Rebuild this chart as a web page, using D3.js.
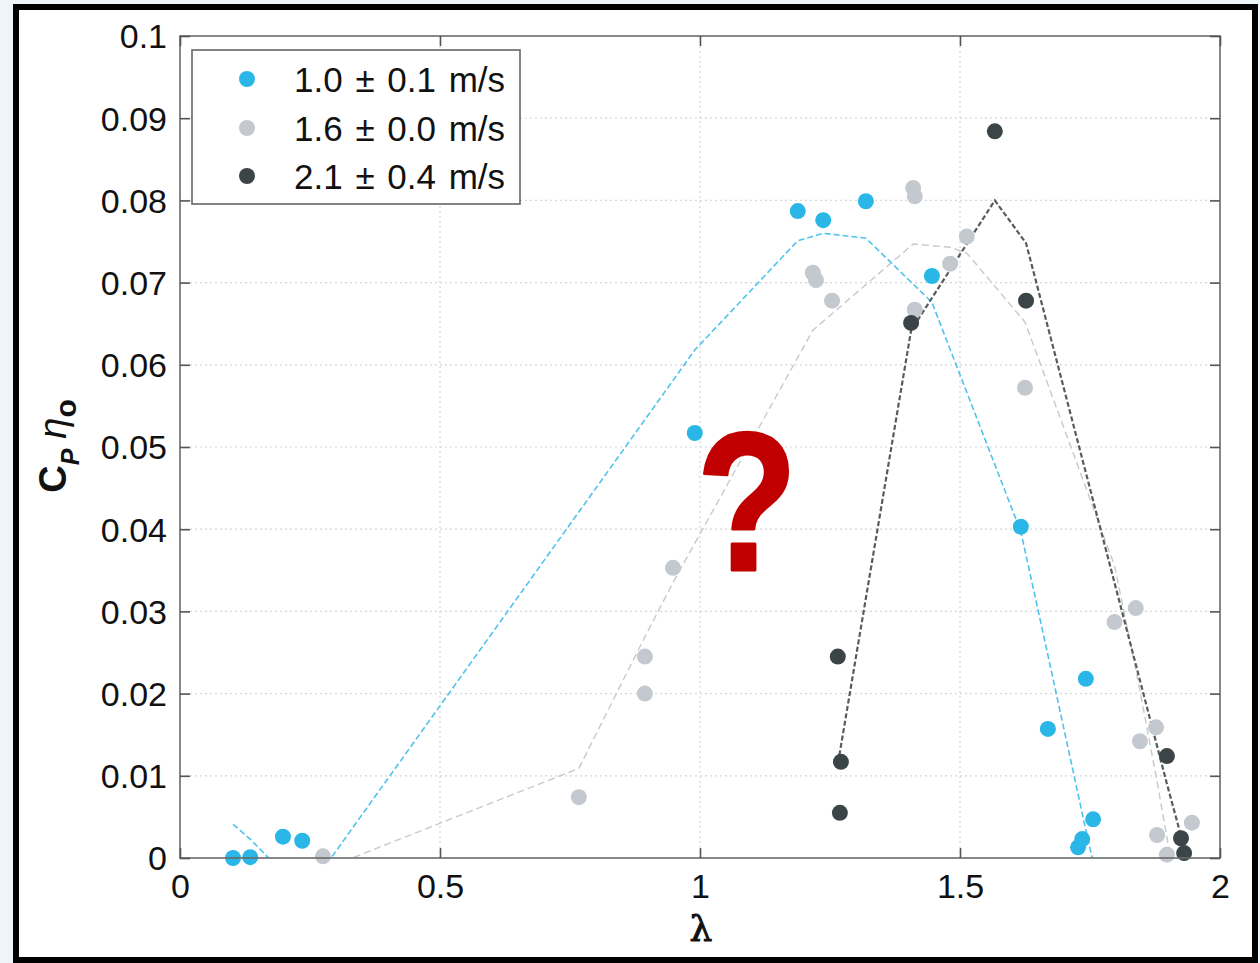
<!DOCTYPE html>
<html>
<head>
<meta charset="utf-8">
<script src="https://cdn.jsdelivr.net/npm/d3@7/dist/d3.min.js"></script>
<style>
  html, body { margin: 0; padding: 0; background: #eef5f9; }
  svg { display: block; }
  text { font-family: "Liberation Sans", Arial, sans-serif; }
</style>
</head>
<body>
<svg id="chart" width="1260" height="963"></svg>
<script>
// ---------------- data ----------------
const seriesLabels = ["1.0 \u00B1 0.1 m/s", "1.6 \u00B1 0.0 m/s", "2.1 \u00B1 0.4 m/s"];

const blueX = [0.102, 0.135, 0.198, 0.235, 0.990, 1.188, 1.237, 1.319, 1.446, 1.617, 1.669, 1.742, 1.727, 1.735, 1.756];
const blueY = [0.0000, 0.0001, 0.0026, 0.0021, 0.0517, 0.0787, 0.0776, 0.0799, 0.0708, 0.0403, 0.0157, 0.0218, 0.0013, 0.0023, 0.0047];

const grayX = [0.275, 0.767, 0.894, 0.894, 0.948, 1.217, 1.223, 1.254, 1.410, 1.413, 1.413, 1.481, 1.513, 1.625, 1.797, 1.838, 1.846, 1.877, 1.879, 1.898, 1.946];
const grayY = [0.0002, 0.0074, 0.0200, 0.0245, 0.0353, 0.0712, 0.0703, 0.0678, 0.0815, 0.0805, 0.0667, 0.0723, 0.0756, 0.0572, 0.0287, 0.0304, 0.0142, 0.0159, 0.0028, 0.0004, 0.0043];

const darkX = [1.265, 1.271, 1.269, 1.406, 1.567, 1.627, 1.898, 1.925, 1.931];
const darkY = [0.0245, 0.0117, 0.0055, 0.0651, 0.0884, 0.0678, 0.0124, 0.0024, 0.0006];

// fitted (dashed) curves
const blueFitX = [0.102, 0.135, 0.198, 0.235, 0.990, 1.188, 1.237, 1.319, 1.446, 1.617, 1.669, 1.742, 1.756];
const blueFitY = [0.0041, 0.0023, -0.0018, -0.0049, 0.0618, 0.0751, 0.0760, 0.0754, 0.0676, 0.0397, 0.0247, 0.0034, -0.0005];

const grayFitX = [0.275, 0.767, 0.894, 0.948, 1.217, 1.254, 1.410, 1.481, 1.513, 1.625, 1.797, 1.838, 1.877, 1.898, 1.946];
const grayFitY = [-0.0014, 0.0109, 0.0269, 0.0335, 0.0642, 0.0662, 0.0747, 0.0743, 0.0736, 0.0652, 0.0356, 0.0230, 0.0100, 0.0025, -0.0140];

const darkFitX = [1.268, 1.406, 1.567, 1.627, 1.898, 1.925, 1.931];
const darkFitY = [0.0125, 0.0642, 0.0800, 0.0748, 0.0090, 0.0027, 0.0012];

const xTicks = [0, 0.5, 1, 1.5, 2];
const xTickLabels = ["0", "0.5", "1", "1.5", "2"];
const yTicks = [0, 0.01, 0.02, 0.03, 0.04, 0.05, 0.06, 0.07, 0.08, 0.09, 0.1];
const yTickLabels = ["0", "0.01", "0.02", "0.03", "0.04", "0.05", "0.06", "0.07", "0.08", "0.09", "0.1"];

const colors = { blue: "#2ab7e8", gray: "#c3c9cf", dark: "#3b4548" };

// ---------------- layout ----------------
const svg = d3.select("#chart");
const L = 180, R = 1220, T = 36, B = 858;
const x = d3.scaleLinear().domain([0, 2]).range([L, R]);
const y = d3.scaleLinear().domain([0, 0.1]).range([B, T]);

// frame
svg.append("rect").attr("x", 16).attr("y", 7).attr("width", 1239).attr("height", 953)
  .attr("fill", "#ffffff").attr("stroke", "#000").attr("stroke-width", 6);

// grid
const grid = svg.append("g");
grid.selectAll("line.gx").data(xTicks.slice(1, -1)).enter().append("line")
  .attr("x1", d => x(d)).attr("x2", d => x(d)).attr("y1", T).attr("y2", B)
  .attr("stroke", "#d6d6d6").attr("stroke-width", 1.2).attr("stroke-dasharray", "2,3");
grid.selectAll("line.gy").data(yTicks.slice(1, -1)).enter().append("line")
  .attr("x1", L).attr("x2", R).attr("y1", d => y(d)).attr("y2", d => y(d))
  .attr("stroke", "#d6d6d6").attr("stroke-width", 1.2).attr("stroke-dasharray", "2,3");

// clip
svg.append("clipPath").attr("id", "plotclip").append("rect")
  .attr("x", L).attr("y", T).attr("width", R - L).attr("height", B - T);

const line = d3.line().x(d => x(d[0])).y(d => y(d[1]));
const plot = svg.append("g").attr("clip-path", "url(#plotclip)");

plot.append("path").datum(d3.zip(grayFitX, grayFitY)).attr("d", line)
  .attr("fill", "none").attr("stroke", "#c9c9c9").attr("stroke-width", 1.4).attr("stroke-dasharray", "7,4");
plot.append("path").datum(d3.zip(blueFitX, blueFitY)).attr("d", line)
  .attr("fill", "none").attr("stroke", "#4fc3ec").attr("stroke-width", 1.6).attr("stroke-dasharray", "6,3");
plot.append("path").datum(d3.zip(darkFitX, darkFitY)).attr("d", line)
  .attr("fill", "none").attr("stroke", "#555c5f").attr("stroke-width", 2.2).attr("stroke-dasharray", "5,2.5");

// points
function pts(xs, ys, c) {
  svg.append("g").selectAll("circle").data(d3.zip(xs, ys)).enter().append("circle")
    .attr("cx", d => x(d[0])).attr("cy", d => y(d[1])).attr("r", 8).attr("fill", c);
}
pts(grayX, grayY, colors.gray);
pts(blueX, blueY, colors.blue);
pts(darkX, darkY, colors.dark);

// axes box
svg.append("rect").attr("x", L).attr("y", T).attr("width", R - L).attr("height", B - T)
  .attr("fill", "none").attr("stroke", "#6a6a6a").attr("stroke-width", 1.6);

// axes (ticks inward)
const axB = d3.axisBottom(x).tickValues(xTicks).tickSize(-10).tickFormat((d, i) => xTickLabels[i]).tickPadding(14);
const axL = d3.axisLeft(y).tickValues(yTicks).tickSize(-10).tickFormat((d, i) => yTickLabels[i]).tickPadding(13);
const axT = d3.axisTop(x).tickValues(xTicks).tickSize(-10).tickFormat("");
const axR = d3.axisRight(y).tickValues(yTicks).tickSize(-10).tickFormat("");

function styleAxis(g) {
  g.select(".domain").remove();
  g.selectAll(".tick line").attr("stroke", "#555").attr("stroke-width", 1.6);
  g.selectAll(".tick text").attr("fill", "#111").style("font-size", "34px")
    .style("font-family", "'Liberation Sans', Arial, sans-serif");
}
const gB = svg.append("g").attr("transform", `translate(0,${B})`).call(axB); styleAxis(gB);
gB.selectAll(".tick text").attr("dy", "0.75em");
const gL = svg.append("g").attr("transform", `translate(${L},0)`).call(axL); styleAxis(gL);
gL.selectAll(".tick text").attr("dy", "0.35em");
const gT = svg.append("g").attr("transform", `translate(0,${T})`).call(axT); styleAxis(gT);
const gR = svg.append("g").attr("transform", `translate(${R},0)`).call(axR); styleAxis(gR);

// axis labels
svg.append("text").attr("x", 701).attr("y", 941).attr("text-anchor", "middle")
  .style("font-size", "36px").style("font-family", "'DejaVu Serif', serif").attr("fill", "#111")
  .attr("stroke", "#111").attr("stroke-width", 1).text("\u03BB");

const yl = svg.append("text").attr("transform", "translate(66,446) rotate(-90)")
  .attr("text-anchor", "middle").attr("fill", "#111");
yl.append("tspan").style("font-size", "38px").style("font-weight", "bold").text("C");
yl.append("tspan").style("font-size", "25px").style("font-style", "italic").style("font-weight", "bold").attr("dy", 13).text("P");
yl.append("tspan").style("font-size", "38px").style("font-style", "italic").attr("dy", -13).attr("dx", 10).text("\u03B7");
yl.append("tspan").style("font-size", "30px").style("font-weight", "bold").attr("dy", 10).text("o");

// legend
const lg = svg.append("g");
lg.append("rect").attr("x", 192).attr("y", 50).attr("width", 328).attr("height", 154)
  .attr("fill", "#fff").attr("stroke", "#666").attr("stroke-width", 1.6);
const lc = [colors.blue, colors.gray, colors.dark];
const ly = [79, 128, 176];
seriesLabels.forEach((s, i) => {
  lg.append("circle").attr("cx", 247).attr("cy", ly[i]).attr("r", 8).attr("fill", lc[i]);
  lg.append("text").attr("x", 294).attr("y", ly[i]).attr("dy", "0.36em")
    .style("font-size", "35px").style("word-spacing", "3px").attr("fill", "#111").text(s);
});

// red question mark overlay
svg.append("text").attr("transform", "translate(747,570) scale(0.84,1)")
  .attr("text-anchor", "middle").style("font-size", "196px").style("font-weight", "bold")
  .attr("fill", "#c00000").attr("stroke", "#c00000").attr("stroke-width", 3).attr("stroke-linejoin", "round")
  .text("?");
</script>
</body>
</html>
